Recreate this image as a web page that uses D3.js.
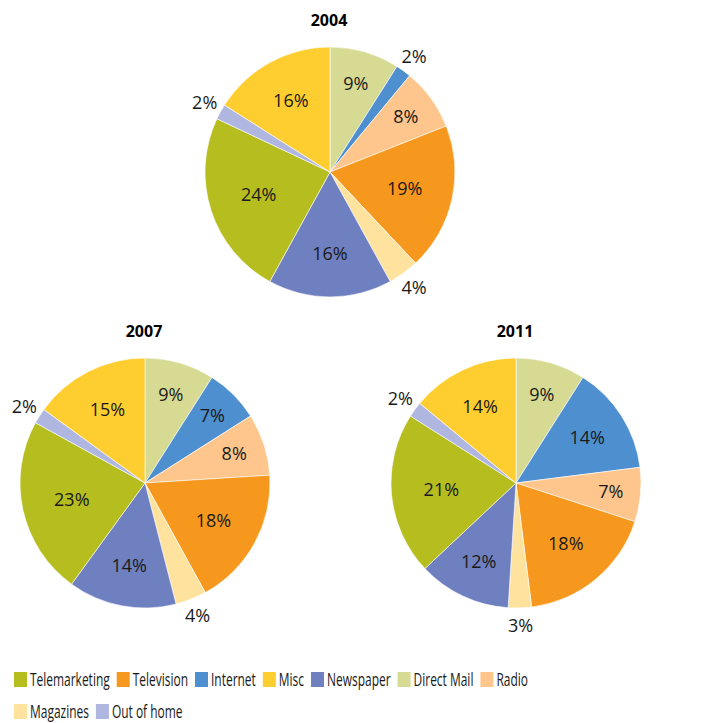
<!DOCTYPE html>
<html>
<head>
<meta charset="utf-8">
<script src="https://cdn.jsdelivr.net/npm/d3@7"></script>
<style>
  body { margin: 0; background: #fff; }
  svg { display: block; }
</style>
</head>
<body>
<div id="viz"></div>
<script>
"use strict";

// slice order, clockwise from 12 o'clock
const categories = ["Direct Mail", "Internet", "Radio", "Television", "Magazines",
                    "Newspaper", "Telemarketing", "Out of home", "Misc"];
const years = ["2004", "2007", "2011"];
const values2004 = [9, 2, 8, 19, 4, 16, 24, 2, 16];
const values2007 = [9, 7, 8, 18, 4, 14, 23, 2, 15];
const values2011 = [9, 14, 7, 18, 3, 12, 21, 2, 14];
const legendOrder = ["Telemarketing", "Television", "Internet", "Misc", "Newspaper",
                     "Direct Mail", "Radio", "Magazines", "Out of home"];
const colors = ["#d7da92", "#4e8fcf", "#fec68c", "#f7981e", "#fee29e",
                "#6f80c0", "#b6bd1f", "#afb6df", "#fecd2f"];

let width = 722;
let height = 723;
let radius = 125;

let color = d3.scaleOrdinal().domain(categories).range(colors);

let svg = d3.select('#viz')
            .append('svg')
            .attr('width', width)
            .attr('height', height);

let pies = [
  {year: years[0], values: values2004, cx: 330, cy: 172},
  {year: years[1], values: values2007, cx: 145, cy: 483},
  {year: years[2], values: values2011, cx: 516, cy: 483}
];

let pie = d3.pie().sort(null).value(d => d.v);
let arc = d3.arc().innerRadius(0).outerRadius(radius);

pies.forEach(p => {
  let data = categories.map((c, i) => ({name: c, v: p.values[i]}));
  let g = svg.append('g').attr('transform', `translate(${p.cx},${p.cy})`);

  svg.append('text')
     .attr('x', p.cx - 1)
     .attr('y', p.cy - radius - 21)
     .attr('text-anchor', 'middle')
     .attr('font-family', '"Open Sans", sans-serif')
     .attr('font-weight', 'bold')
     .attr('font-size', '16px')
     .attr('fill', '#000')
     .text(p.year);

  let arcs = pie(data);

  g.selectAll('path')
   .data(arcs)
   .enter()
   .append('path')
   .attr('d', arc)
   .attr('fill', d => color(d.data.name))
   .attr('stroke', '#fff')
   .attr('stroke-width', 0.6);

  g.selectAll('text')
   .data(arcs)
   .enter()
   .append('text')
   .attr('transform', d => {
     let a = (d.startAngle + d.endAngle) / 2;
     let v = d.data.v;
     let r = v < 5 ? radius + 18 : radius * (0.6 + 0.25 * (1 - Math.min(v, 20) / 20));
     return `translate(${Math.sin(a) * r},${-Math.cos(a) * r})`;
   })
   .attr('dy', '0.35em')
   .attr('text-anchor', 'middle')
   .attr('font-family', '"Open Sans", sans-serif')
   .attr('font-size', '18px')
   .attr('fill', '#1a1a1a')
   .text(d => d.data.v + '%');
});

// legend (narrow font look: squeeze horizontally)
let squeeze = 0.665;
let legend = svg.append('g').attr('font-family', '"Open Sans", sans-serif')
                .attr('font-size', '18px');
let rows = [legendOrder.slice(0, 7), legendOrder.slice(7)];
rows.forEach((row, ri) => {
  let x = 14;
  let y = 680 + ri * 32;
  row.forEach(name => {
    legend.append('rect')
          .attr('x', x)
          .attr('y', y - 8)
          .attr('width', 13)
          .attr('height', 15)
          .attr('fill', color(name));
    let t = legend.append('text')
          .attr('transform', `translate(${x + 16},${y}) scale(${squeeze},1)`)
          .attr('dy', '0.35em')
          .attr('fill', '#1a1a1a')
          .text(name);
    x += 16 + t.node().getComputedTextLength() * squeeze + 7;
  });
});
</script>
</body>
</html>
